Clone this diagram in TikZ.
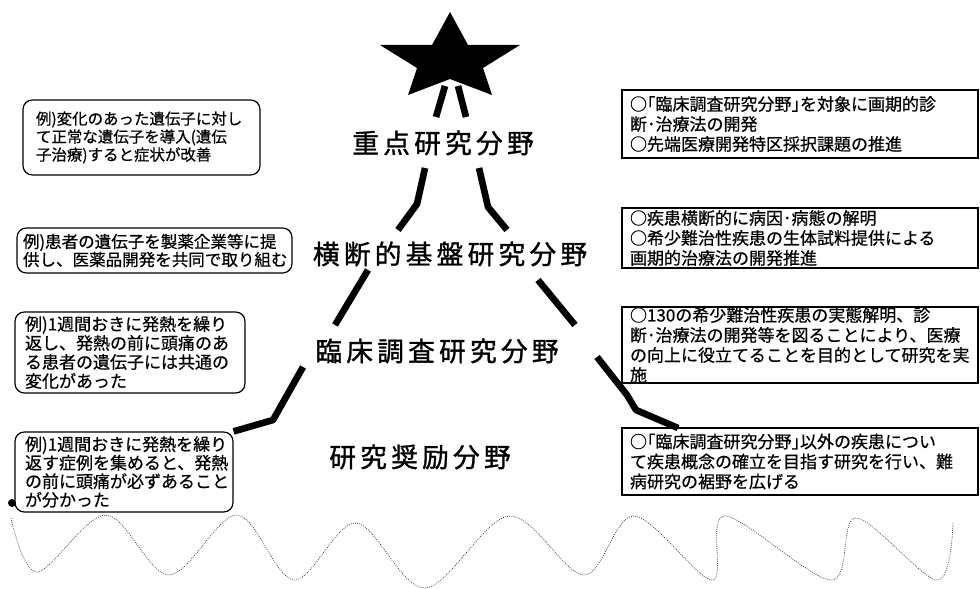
\documentclass[tikz,border=0pt]{standalone}
\usepackage{fontspec}
\setmainfont{Noto Sans CJK JP}[FakeBold=0.6]
\newfontfamily\bigjp{Noto Sans CJK JP}[LetterSpace=16,FakeBold=1.2]
\begin{document}
\begin{tikzpicture}[x=0.75pt,y=-0.75pt,
  lbox/.style={draw, rounded corners=7pt, line width=0.9pt, align=left, inner ysep=0pt, anchor=center},
  rbox/.style={draw, line width=1.1pt, align=left, inner ysep=0pt, inner xsep=6pt, text width=255pt, minimum width=267pt, anchor=center,
     font=\fontsize{12.75pt}{15pt}\selectfont},
  level/.style={font=\bigjp\fontsize{20pt}{22pt}\selectfont, inner sep=0pt, anchor=center},
  bar/.style={line width=5pt, line join=round},
  wave/.style={densely dotted, line width=0.6pt, black!75}
]
\useasboundingbox (0,0) rectangle (980,588);

% star
\fill[black] (450,12) -- (468,45) -- (520,45) -- (483,68) -- (492,95) -- (450,79) -- (408,95) -- (417,68) -- (380,45) -- (432,45) -- cycle;

% level labels
\node[level] (l1) at (443,143) {重点研究分野};
\node[level] (l2) at (450,254) {横断的基盤研究分野};
\node[level] (l3) at (437,351) {臨床調査研究分野};
\node[level] (l4) at (420,457) {研究奨励分野};

% left boxes
\node[lbox, inner xsep=9.75pt, text width=158.25pt, minimum width=177.75pt, minimum height=56.25pt,
  font=\fontsize{11.6pt}{13.5pt}\selectfont] (b1) at (141.5,137.5)
  {例)変化のあった遺伝子に対し\\て正常な遺伝子を導入(遺伝\\子治療)すると症状が改善};
\node[lbox, inner xsep=4.5pt, text width=197.25pt, minimum width=206.25pt, minimum height=33.75pt,
  font=\fontsize{12.4pt}{13.5pt}\selectfont] (b2) at (154.5,250.5)
  {例)患者の遺伝子を製薬企業等に提\\供し、医薬品開発を共同で取り組む};
\node[lbox, inner xsep=7.5pt, text width=157.5pt, minimum width=172.5pt, minimum height=60.75pt,
  font=\fontsize{12.75pt}{14.25pt}\selectfont] (b3) at (130,352.5)
  {例)1週間おきに発熱を繰り\\返し、発熱の前に頭痛のあ\\る患者の遺伝子には共通の\\変化があった};
\node[lbox, inner xsep=7.5pt, text width=148.5pt, minimum width=163.5pt, minimum height=60pt,
  font=\fontsize{12.75pt}{13.9pt}\selectfont] (b4) at (124,472)
  {例)1週間おきに発熱を繰り\\返す症例を集めると、発熱\\の前に頭痛が必ずあること\\が分かった};

% right boxes
\node[rbox, minimum height=51pt] (r1) at (800,124)
  {○｢臨床調査研究分野｣を対象に画期的診\\断･治療法の開発\\○先端医療開発特区採択課題の推進};
\node[rbox, minimum height=45pt] (r2) at (800,238)
  {○疾患横断的に病因･病態の解明\\○希少難治性疾患の生体試料提供による\\画期的治療法の開発推進};
\node[rbox, minimum height=57pt] (r3) at (800,345)
  {○130の希少難治性疾患の実態解明、診\\断･治療法の開発等を図ることにより、医療\\の向上に役立てることを目的として研究を実\\施};
\node[rbox, minimum height=50.25pt] (r4) at (800,461.5)
  {○｢臨床調査研究分野｣以外の疾患につい\\て疾患概念の確立を目指す研究を行い、難\\病研究の裾野を広げる};

% connector coordinates
\coordinate (s1) at (445,86);  \coordinate (s2) at (458,86);
\coordinate (a1) at (436,117); \coordinate (a2) at (466,117);
\coordinate (c1) at (425,168); \coordinate (c1m) at (417,204); \coordinate (c1e) at (398,230);
\coordinate (c2) at (479,168); \coordinate (c2m) at (488,207); \coordinate (c2e) at (507,230);
\coordinate (d1) at (368,270); \coordinate (d1e) at (335,325);
\coordinate (d2) at (538,280); \coordinate (d2e) at (575,325);
\coordinate (e1) at (303,367); \coordinate (e1m) at (273,420);
\coordinate (e2) at (597,357); \coordinate (e2m) at (627,395); \coordinate (e2n) at (636,410); \coordinate (e2e) at (678,428);

\draw[bar] (s1) -- (a1);
\draw[bar] (s2) -- (a2);
\draw[bar] (c1) -- (c1m) -- (c1e);
\draw[bar] (c2) -- (c2m) -- (c2e);
\draw[bar] (d1) -- (d1e);
\draw[bar] (d2) -- (d2e);
\draw[bar] (e1) -- (e1m) -- (b4.north east);
\draw[bar] (e2) -- (e2m) -- (e2n) -- (e2e);

% dot
\fill (12,503) circle (4);

% wave
\draw[wave] plot[smooth, tension=0.55] coordinates {(11,518) (37,572) (106,515) (169,575) (237,515) (294,580) (356,523) (425,588) (509,516) (584,575) (634,516) (712,580) (725,516) (831,580) (856,518) (937,580) (953,522)};
\end{tikzpicture}
\end{document}
